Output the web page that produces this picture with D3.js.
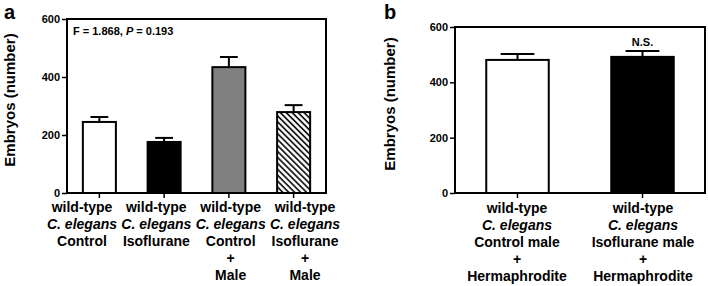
<!DOCTYPE html>
<meta charset="utf-8">
<style>
body { margin: 0; background: #fff; }
text { font-family: 'Liberation Sans', Arial, sans-serif; font-weight: bold; fill: #000; }
.tick text { font-size: 11px; }
.xlab { font-size: 14px; }
.ylab { font-size: 15px; }
.panel { font-size: 20px; }
.note { font-size: 11px; }
</style>
<svg width="708" height="286"></svg>
<script src="https://d3js.org/d3.v7.min.js"></script>
<script>

// panel a
var labelsA = [
  ["wild-type", "C. elegans", "Control"],
  ["wild-type", "C. elegans", "Isoflurane"],
  ["wild-type", "C. elegans", "Control", "+", "Male"],
  ["wild-type", "C. elegans", "Isoflurane", "+", "Male"]
];
var meansA = [245, 176, 434, 279];
var semA = [17, 14, 35, 24];
var fillsA = ["white", "black", "#808080", "url(#hatch)"];

// panel b
var labelsB = [
  ["wild-type", "C. elegans", "Control male", "+", "Hermaphrodite"],
  ["wild-type", "C. elegans", "Isoflurane male", "+", "Hermaphrodite"]
];
var meansB = [481, 492];
var semB = [21, 21];
var fillsB = ["white", "black"];

var yTicks = [0, 200, 400, 600];

var svg = d3.select("svg");

var defs = svg.append("defs");
var pat = defs.append("pattern")
    .attr("id", "hatch")
    .attr("patternUnits", "userSpaceOnUse")
    .attr("width", 4.2).attr("height", 4.2)
    .attr("patternTransform", "rotate(-45)");
pat.append("rect").attr("width", 4.2).attr("height", 4.2).attr("fill", "white");
pat.append("line").attr("x1", 1).attr("y1", 0).attr("x2", 1).attr("y2", 4.2)
    .attr("stroke", "black").attr("stroke-width", 1.6);

function drawPanel(opt) {
  var x = d3.scaleBand()
      .domain(d3.range(opt.means.length))
      .range([opt.left, opt.right])
      .paddingInner(opt.pad).paddingOuter(opt.pad / 2);
  var y = d3.scaleLinear().domain([0, 600]).range([opt.bottom, opt.top]);
  // the category texts are spread a little wider than the bars
  var xl = d3.scalePoint()
      .domain(d3.range(opt.means.length))
      .range(opt.labelRange);

  var g = svg.append("g");

  // frame
  g.append("rect")
      .attr("x", opt.left).attr("y", opt.top)
      .attr("width", opt.right - opt.left).attr("height", opt.bottom - opt.top)
      .attr("fill", "none").attr("stroke", "black").attr("stroke-width", 2);

  var yAxis = g.append("g")
      .attr("transform", "translate(" + opt.left + ",0)")
      .call(d3.axisLeft(y).tickValues(yTicks).tickSize(5).tickPadding(2));
  yAxis.select(".domain").remove();
  yAxis.selectAll("line").attr("stroke-width", 1.5);

  var xAxis = g.append("g")
      .attr("transform", "translate(0," + opt.bottom + ")")
      .call(d3.axisBottom(x).tickSize(5).tickFormat(""));
  xAxis.select(".domain").remove();
  xAxis.selectAll("line").attr("stroke-width", 1.5);

  var bw = x.bandwidth();

  // error bars (upper only)
  var err = g.selectAll(".err").data(opt.means).enter().append("g");
  err.append("line")
      .attr("x1", function(d, i) { return x(i) + bw / 2; })
      .attr("x2", function(d, i) { return x(i) + bw / 2; })
      .attr("y1", function(d) { return y(d); })
      .attr("y2", function(d, i) { return y(d + opt.sem[i]); })
      .attr("stroke", "black").attr("stroke-width", 2);
  err.append("line")
      .attr("x1", function(d, i) { return x(i) + bw / 2 - bw * 0.27; })
      .attr("x2", function(d, i) { return x(i) + bw / 2 + bw * 0.27; })
      .attr("y1", function(d, i) { return y(d + opt.sem[i]); })
      .attr("y2", function(d, i) { return y(d + opt.sem[i]); })
      .attr("stroke", "black").attr("stroke-width", 2);

  g.selectAll(".bar").data(opt.means).enter().append("rect")
      .attr("x", function(d, i) { return x(i); })
      .attr("y", function(d) { return y(d); })
      .attr("width", bw)
      .attr("height", function(d) { return y(0) - y(d); })
      .attr("fill", function(d, i) { return opt.fills[i]; })
      .attr("stroke", "black").attr("stroke-width", 2);

  // category labels
  opt.labels.forEach(function(lines, i) {
    var t = g.append("text")
        .attr("class", "xlab")
        .attr("text-anchor", "middle")
        .attr("x", xl(i))
        .attr("y", opt.labelY);
    lines.forEach(function(s, j) {
      t.append("tspan")
          .attr("x", xl(i))
          .attr("dy", j == 0 ? 0 : 17)
          .style("font-style", s == "C. elegans" ? "italic" : "normal")
          .text(s);
    });
  });

  g.append("text")
      .attr("class", "ylab")
      .attr("transform", "rotate(-90)")
      .attr("x", -(opt.top + opt.bottom) / 2 + 6)
      .attr("y", opt.ylabX)
      .attr("dominant-baseline", "central")
      .attr("text-anchor", "middle")
      .text("Embryos (number)");

  g.append("text")
      .attr("class", "panel")
      .attr("x", opt.letterX).attr("y", 19)
      .text(opt.letter);

  return {x: x, y: y, g: g};
}

var pa = drawPanel({
  means: meansA, sem: semA, fills: fillsA, labels: labelsA,
  left: 67, right: 326, top: 19, bottom: 193, pad: 0.49,
  labelRange: [82, 305],
  labelY: 212, ylabX: 9, letter: "a", letterX: 4
});

var note = pa.g.append("text").attr("class", "note").attr("x", 73).attr("y", 35);
note.append("tspan").text("F = 1.868, ");
note.append("tspan").style("font-style", "italic").text("P");
note.append("tspan").text(" = 0.193");

var pb = drawPanel({
  means: meansB, sem: semB, fills: fillsB, labels: labelsB,
  left: 455, right: 705, top: 27, bottom: 193, pad: 0.5,
  labelRange: [517, 643],
  labelY: 213, ylabX: 389, letter: "b", letterX: 384
});

pb.g.append("text")
    .attr("class", "note")
    .attr("text-anchor", "middle")
    .attr("x", pb.x(1) + pb.x.bandwidth() / 2)
    .attr("y", pb.y(meansB[1] + semB[1]) - 5)
    .text("N.S.");

</script>
